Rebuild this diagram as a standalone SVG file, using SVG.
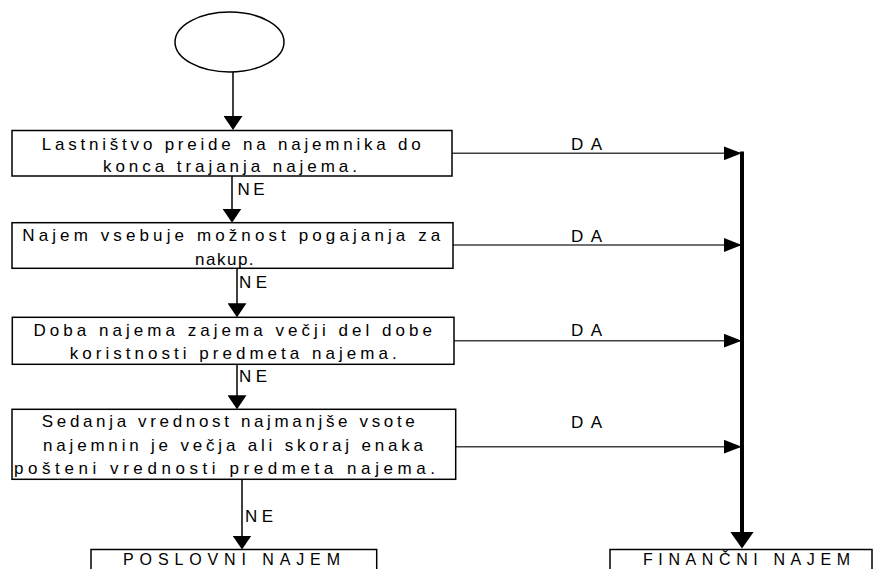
<svg xmlns="http://www.w3.org/2000/svg" width="874" height="569" viewBox="0 0 874 569">
<defs>
<style>
.box{fill:#fff;stroke:#000;stroke-width:1.5}
.t{font-family:"Liberation Sans",Arial,sans-serif;font-size:17px;fill:#000}
.b{font-size:16px}
.v{fill:none;stroke:#000;stroke-width:1.5}
.da{fill:none;stroke:#404040;stroke-width:1.5}
.thick{fill:none;stroke:#000;stroke-width:4}
</style>
<marker id="av" markerUnits="userSpaceOnUse" markerWidth="14" markerHeight="19" refX="12" refY="9.5" orient="auto"><path d="M0,0 L14,9.5 L0,19 z" fill="#000"/></marker>
<marker id="ah" markerUnits="userSpaceOnUse" markerWidth="18" markerHeight="14" refX="16" refY="7" orient="auto"><path d="M0,0 L18,7 L0,14 z" fill="#000"/></marker>
<marker id="at" markerUnits="userSpaceOnUse" markerWidth="17" markerHeight="24" refX="6" refY="12" orient="auto"><path d="M0,0 L17,12 L0,24 z" fill="#000"/></marker>
</defs>
<rect width="874" height="569" fill="#fff"/>

<g id="connectors">
<path class="v" d="M233,72 V128" marker-end="url(#av)"/>
<path class="v" d="M232,176 V220.7" marker-end="url(#av)"/>
<path class="v" d="M237,268.3 V315.3" marker-end="url(#av)"/>
<path class="v" d="M237,364.3 V407.3" marker-end="url(#av)"/>
<path class="v" d="M242,479.3 V547.5" marker-end="url(#av)"/>
<path class="da" d="M452,153.3 H739.7" marker-end="url(#ah)"/>
<path class="da" d="M453,245 H739.7" marker-end="url(#ah)"/>
<path class="da" d="M454,340.7 H739.7" marker-end="url(#ah)"/>
<path class="da" d="M455.7,446.7 H739.7" marker-end="url(#ah)"/>
<path class="thick" d="M742,151.5 V537.5" marker-end="url(#at)"/>
<text class="t" x="237.5" y="195" textLength="27" lengthAdjust="spacing">NE</text>
<text class="t" x="239" y="288.3" textLength="28" lengthAdjust="spacing">NE</text>
<text class="t" x="239" y="381.7" textLength="28" lengthAdjust="spacing">NE</text>
<text class="t" x="245" y="522" textLength="28" lengthAdjust="spacing">NE</text>
<text class="t" x="571" y="150" textLength="31" lengthAdjust="spacing">DA</text>
<text class="t" x="571" y="241.5" textLength="31" lengthAdjust="spacing">DA</text>
<text class="t" x="571" y="335.5" textLength="31" lengthAdjust="spacing">DA</text>
<text class="t" x="571" y="428" textLength="31" lengthAdjust="spacing">DA</text>
</g>

<g id="start">
<ellipse cx="229.5" cy="42" rx="54.5" ry="30" fill="#fff" stroke="#000" stroke-width="1.5"/>
</g>

<g id="q1">
<rect class="box" x="12" y="130.5" width="440" height="45.5"/>
<text class="t" x="41.8" y="150" textLength="379" lengthAdjust="spacing">Lastništvo preide na najemnika do</text>
<text class="t" x="103" y="172" textLength="254" lengthAdjust="spacing">konca trajanja najema.</text>
</g>

<g id="q2">
<rect class="box" x="12" y="222.7" width="441" height="45.6"/>
<text class="t" x="22.3" y="241" textLength="418" lengthAdjust="spacing">Najem vsebuje možnost pogajanja za</text>
<text class="t" x="195" y="264.5" textLength="58.6" lengthAdjust="spacing">nakup.</text>
</g>

<g id="q3">
<rect class="box" x="12.3" y="317.3" width="441.7" height="47"/>
<text class="t" x="33.4" y="336" textLength="398.6" lengthAdjust="spacing">Doba najema zajema večji del dobe</text>
<text class="t" x="69.7" y="359" textLength="327" lengthAdjust="spacing">koristnosti predmeta najema.</text>
</g>

<g id="q4">
<rect class="box" x="12" y="409.3" width="443.7" height="70"/>
<text class="t" x="41.8" y="427" textLength="373" lengthAdjust="spacing">Sedanja vrednost najmanjše vsote</text>
<text class="t" x="43" y="451" textLength="380" lengthAdjust="spacing">najemnin je večja ali skoraj enaka</text>
<text class="t" x="14" y="474" textLength="421" lengthAdjust="spacing">pošteni vrednosti predmeta najema.</text>
</g>

<g id="poslovni">
<rect class="box" x="91" y="549.5" width="285.7" height="40"/>
<text class="t b" x="123" y="565" textLength="217" lengthAdjust="spacing">POSLOVNI NAJEM</text>
</g>

<g id="financni">
<rect class="box" x="610" y="549.5" width="262" height="40"/>
<text class="t b" x="643" y="565" textLength="207" lengthAdjust="spacing">FINANČNI NAJEM</text>
</g>
</svg>
